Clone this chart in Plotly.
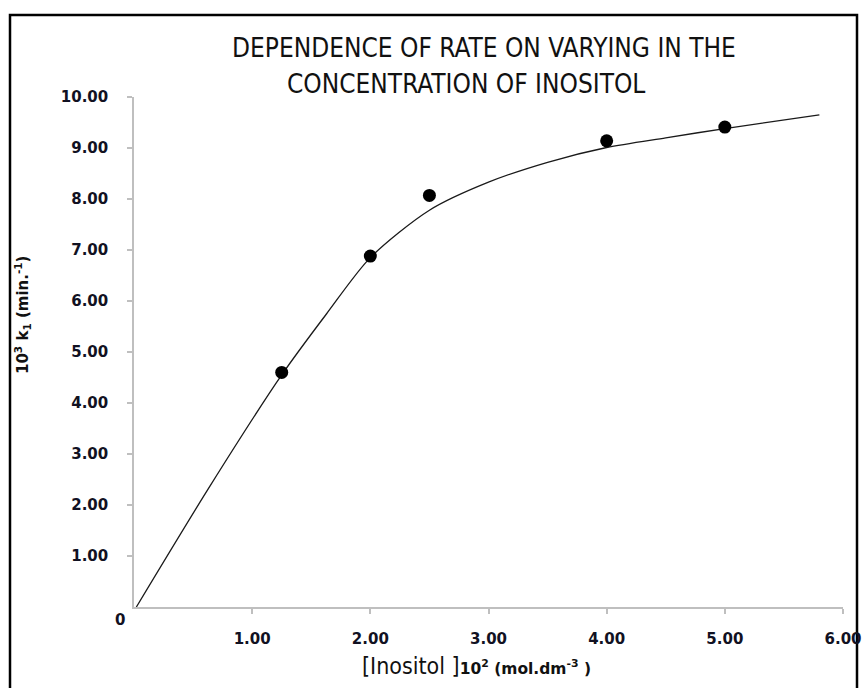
import plotly.graph_objects as go

# Data
conc = [1.25, 2.00, 2.50, 4.00, 5.00]          # [Inositol] x 10^2 (mol dm^-3)
rate = [4.60, 6.88, 8.07, 9.14, 9.41]          # 10^3 k1 (min^-1)

# Smooth fitted curve
curve_x = [0.02, 0.64, 1.25, 1.63, 2.00, 2.50, 3.00, 3.50, 4.00, 4.50, 5.00, 5.80]
curve_y = [0.00, 2.36, 4.55, 5.75, 6.85, 7.78, 8.33, 8.72, 9.01, 9.20, 9.38, 9.65]

x_ticks = [1, 2, 3, 4, 5, 6]
x_ticktext = ["1.00", "2.00", "3.00", "4.00", "5.00", "6.00"]
y_ticks = [1, 2, 3, 4, 5, 6, 7, 8, 9, 10]
y_ticktext = ["1.00", "2.00", "3.00", "4.00", "5.00", "6.00", "7.00", "8.00", "9.00", "10.00"]

title_1 = "DEPENDENCE OF RATE ON VARYING IN THE"
title_2 = "CONCENTRATION OF INOSITOL"

COND = "Liberation Sans Narrow, DejaVu Sans Condensed, Roboto, sans-serif"
TICKF = "DejaVu Sans, Verdana, sans-serif"

fig = go.Figure()
fig.add_trace(go.Scatter(x=curve_x, y=curve_y, mode="lines",
                         line=dict(color="#1a1a1a", width=1.3, shape="spline", smoothing=0.8),
                         hoverinfo="skip", showlegend=False, cliponaxis=False))
fig.add_trace(go.Scatter(x=conc, y=rate, mode="markers", marker=dict(color="black", size=13, symbol="circle"),
                         showlegend=False, cliponaxis=False))

axis_common = dict(showline=True, linecolor="#bfbfbf", linewidth=1.5, ticks="outside", tickcolor="#bfbfbf",
                   ticklen=5, tickwidth=1.5, showgrid=False, zeroline=False, automargin=False,
                   tickfont=dict(family=TICKF, size=15, color="#111122"))

fig.update_xaxes(range=[0, 6], tickvals=x_ticks, ticktext=["<b>%s</b>" % t for t in x_ticktext],
                 ticklabelstandoff=12, **axis_common)
fig.update_yaxes(range=[0, 10], tickvals=y_ticks, ticktext=["<b>%s</b>" % t for t in y_ticktext],
                 ticklabelstandoff=16, **axis_common)

W, H = 863, 688
L, R, T, B = 134, 20, 97, 81
pw, ph = W - L - R, H - T - B

def px(xp):
    return (xp - L) / pw

def py(yp):
    return (H - B - yp) / ph

annots = [
    dict(text=title_1, x=px(484), y=py(48), font=dict(family=COND, size=26, color="#111")),
    dict(text=title_2, x=px(466), y=py(84), font=dict(family=COND, size=26, color="#111")),
    dict(text="<b>0</b>", x=px(120), y=py(620), font=dict(family=TICKF, size=15, color="#111122")),
    dict(text="<b>10<sup>3</sup> k<sub>1</sub> (min.<sup>-1</sup>)</b>", x=px(22), y=py(315), textangle=-90,
         font=dict(family=TICKF, size=15, color="#111")),
    dict(text="<span style='font-family:" + COND + ";font-size:23px'>[Inositol ]</span>"
              "<b>10<sup>2</sup> (mol.dm<sup>-3</sup> )</b>",
         x=px(476), y=py(666), font=dict(family=TICKF, size=15.5, color="#111")),
]
for a in annots:
    a.update(xref="paper", yref="paper", showarrow=False, xanchor="center", yanchor="middle")
fig.update_layout(annotations=annots)

# Outer black frame
fig.add_shape(type="rect", xref="paper", yref="paper", x0=px(10), x1=px(857), y0=py(15), y1=py(700),
              line=dict(color="black", width=2.5), fillcolor="rgba(0,0,0,0)", layer="below")

fig.update_layout(width=W, height=H, margin=dict(l=L, r=R, t=T, b=B, autoexpand=False),
                  plot_bgcolor="white", paper_bgcolor="white")
fig.write_html("out.html", config={"displayModeBar": False},
               post_script="document.body.style.margin='0px';document.body.style.overflow='hidden';")
